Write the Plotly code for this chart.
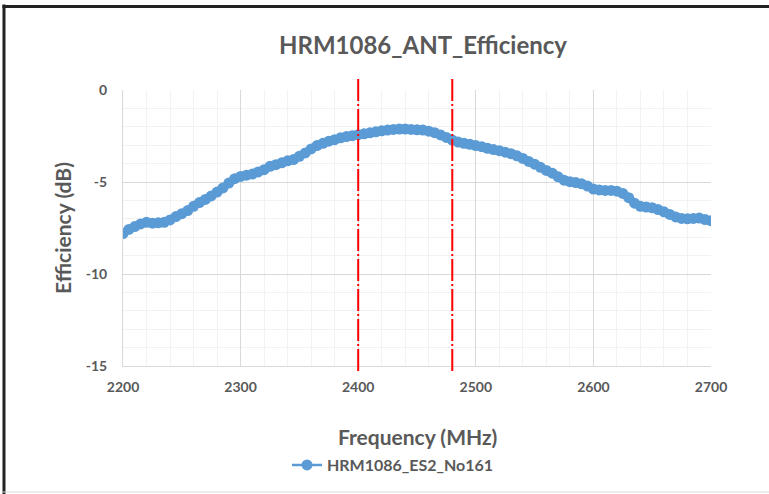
import plotly.graph_objects as go

freq_mhz = list(range(2200, 2701, 5))
efficiency_db = [
    -7.80, -7.58, -7.42, -7.28, -7.19, -7.24, -7.22, -7.19, -7.06, -6.88,
    -6.72, -6.55, -6.32, -6.12, -5.95, -5.76, -5.55, -5.32, -5.06, -4.82,
    -4.70, -4.63, -4.57, -4.45, -4.33, -4.15, -4.06, -3.96, -3.85, -3.78,
    -3.60, -3.42, -3.20, -3.02, -2.90, -2.78, -2.70, -2.60, -2.53, -2.48,
    -2.43, -2.38, -2.33, -2.27, -2.22, -2.18, -2.14, -2.12, -2.12, -2.14,
    -2.16, -2.18, -2.24, -2.32, -2.44, -2.58, -2.72, -2.83, -2.90, -2.95,
    -3.02, -3.08, -3.17, -3.24, -3.30, -3.38, -3.46, -3.58, -3.72, -3.88,
    -4.03, -4.20, -4.37, -4.52, -4.72, -4.90, -4.98, -5.03, -5.10, -5.22,
    -5.38, -5.43, -5.46, -5.46, -5.50, -5.62, -5.85, -6.15, -6.32, -6.36,
    -6.40, -6.50, -6.62, -6.76, -6.90, -6.98, -7.00, -6.98, -6.96, -7.04,
    -7.10,
]
band_edges_mhz = [2400, 2480]
y_tick_values = [0, -5, -10, -15]
y_tick_labels = ["0", "-5", "-10", "-15"]
series_name = "HRM1086_ES2_No161"
chart_title = "HRM1086_ANT_Efficiency"
x_title = "Frequency (MHz)"
y_title = "Efficiency (dB)"

GREY = "#595959"
FONT = "Lato"

fig = go.Figure()
fig.add_trace(go.Scatter(
    x=freq_mhz, y=efficiency_db, mode="lines+markers", name=series_name,
    line=dict(color="#5B9BD5", width=2.5),
    marker=dict(color="#5B9BD5", size=11, symbol="circle"),
))

shapes = []
for f in band_edges_mhz:
    shapes.append(dict(type="line", xref="x", yref="paper", x0=f, x1=f,
                       y0=-0.018, y1=1.04,
                       line=dict(color="#FF0000", width=2, dash="22px,3px,2px,3px")))
# outer frame
shapes.append(dict(type="line", xref="paper", yref="paper", x0=-0.2024, x1=-0.2024,
                   y0=-0.47, y1=1.31, line=dict(color="#222222", width=3)))
shapes.append(dict(type="line", xref="paper", yref="paper", x0=-0.205, x1=1.12,
                   y0=1.3025, y1=1.3025, line=dict(color="#222222", width=3)))
shapes.append(dict(type="line", xref="paper", yref="paper", x0=-0.205, x1=1.12,
                   y0=-0.4565, y1=-0.4565, line=dict(color="#D9D9D9", width=1)))

fig.update_layout(
    width=769, height=494,
    margin=dict(l=123, r=58, t=90, b=128, autoexpand=False),
    paper_bgcolor="white", plot_bgcolor="white",
    font=dict(family=FONT, color=GREY),
    title=dict(text=chart_title, x=423 / 769, xanchor="center",
               y=1 - 46 / 494, yanchor="middle", yref="container",
               font=dict(family=FONT, size=24, color=GREY, weight="bold")),
    showlegend=True,
    legend=dict(orientation="h", x=(393 - 123) / 588, y=-0.359, xanchor="center",
                yanchor="middle",
                font=dict(family=FONT, size=16, color=GREY, weight="bold"),
                bgcolor="rgba(0,0,0,0)"),
    shapes=shapes,
    annotations=[
        dict(text=x_title, xref="paper", yref="paper", x=0.5, y=(366 - 436) / 276,
             xanchor="center", yanchor="middle", showarrow=False,
             font=dict(family=FONT, size=21, color=GREY, weight="bold")),
        dict(text=y_title, xref="paper", yref="paper", x=(62 - 123) / 588, y=0.5,
             xanchor="center", yanchor="middle", showarrow=False, textangle=-90,
             font=dict(family=FONT, size=21, color=GREY, weight="bold")),
    ],
)

fig.update_xaxes(
    range=[2200, 2700], tick0=2200, dtick=100, showgrid=True, gridcolor="#D9D9D9",
    gridwidth=1, zeroline=False, showline=True, linecolor="#D9D9D9", ticks="",
    tickfont=dict(family=FONT, size=14, color=GREY, weight="bold"),
    ticklabelstandoff=8,
    minor=dict(dtick=20, tick0=2200, showgrid=True, gridcolor="#F2F2F2", gridwidth=1),
)
fig.update_yaxes(
    range=[-15, 0], tickmode="array", tickvals=y_tick_values, ticktext=y_tick_labels,
    showgrid=True, gridcolor="#D9D9D9",
    gridwidth=1, zeroline=False, showline=True, linecolor="#D9D9D9", ticks="",
    tickfont=dict(family=FONT, size=14, color=GREY, weight="bold"),
    ticklabelstandoff=12,
    minor=dict(tickmode="linear", dtick=1, tick0=0, showgrid=True,
               gridcolor="#F2F2F2", gridwidth=1),
)

fig.write_html("out.html", config={"displayModeBar": False},
               post_script="document.body.style.margin='0';document.body.style.padding='0';")
